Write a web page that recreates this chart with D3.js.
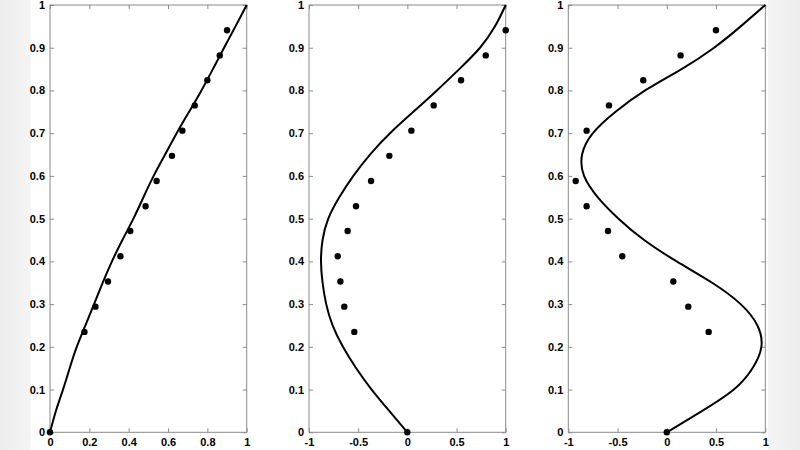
<!DOCTYPE html>
<html><head><meta charset="utf-8">
<script src="https://cdn.jsdelivr.net/npm/d3@7"></script>
<style>body{margin:0;background:#fff}svg{display:block}</style>
</head><body>
<svg id="c" width="800" height="450"></svg>
<script>
const yTicks = [0,0.1,0.2,0.3,0.4,0.5,0.6,0.7,0.8,0.9,1];
const xTicks1 = [0,0.2,0.4,0.6,0.8,1];
const xTicks2 = [-1,-0.5,0,0.5,1];
const dotY = [0,0.235,0.294,0.353,0.412,0.471,0.529,0.588,0.647,0.706,0.765,0.824,0.882,0.941];
const dotX1 = [0,0.175,0.231,0.295,0.358,0.408,0.486,0.542,0.620,0.673,0.736,0.800,0.863,0.900];
const dotX2 = [0,-0.539,-0.641,-0.681,-0.708,-0.607,-0.522,-0.369,-0.183,0.041,0.268,0.546,0.797,1.0];
const dotX3 = [0,0.425,0.218,0.066,-0.452,-0.597,-0.814,-0.925,-0.814,-0.587,-0.239,0.140,0.499];
const dotY3 = [0,0.235,0.294,0.353,0.412,0.471,0.529,0.588,0.706,0.765,0.824,0.882,0.941];
const curveY = [0,0.05,0.1,0.15,0.2,0.25,0.3,0.35,0.4,0.45,0.5,0.55,0.6,0.65,0.7,0.75,0.8,0.85,0.9,0.95,1];
const curveX1 = [0,0.03,0.066,0.1,0.136,0.18,0.224,0.268,0.315,0.368,0.424,0.475,0.527,0.585,0.644,0.707,0.77,0.828,0.885,0.943,1];
const curveX2 = [0,-0.184,-0.363,-0.52,-0.655,-0.76,-0.825,-0.862,-0.878,-0.862,-0.804,-0.692,-0.549,-0.38,-0.176,0.061,0.3,0.528,0.739,0.891,1];
const curveX3 = [0,0.36,0.68,0.87,0.96,0.92,0.75,0.46,0.1,-0.23,-0.49,-0.7,-0.84,-0.86,-0.75,-0.52,-0.22,0.15,0.48,0.75,1];

const svg = d3.select("#c");
const defs = svg.append("defs");
const gl = defs.append("linearGradient").attr("id","gl");
gl.append("stop").attr("offset","0").attr("stop-color","#ececec");
gl.append("stop").attr("offset","1").attr("stop-color","#f5f5f5");
const gr = defs.append("linearGradient").attr("id","gr");
gr.append("stop").attr("offset","0").attr("stop-color","#f5f5f5");
gr.append("stop").attr("offset","1").attr("stop-color","#ececec");
svg.append("rect").attr("x",0).attr("y",0).attr("width",31).attr("height",450).attr("fill","url(#gl)");
svg.append("rect").attr("x",768).attr("y",0).attr("width",32).attr("height",450).attr("fill","url(#gr)");

const plotTop = 5, plotBottom = 432.3;
const panels = [
  {x0:50, x1:246.7, dom:[0,1], xt:xTicks1, cx:curveX1, dx:dotX1, dy:dotY},
  {x0:309, x1:505.7, dom:[-1,1], xt:xTicks2, cx:curveX2, dx:dotX2, dy:dotY},
  {x0:568.3, x1:765.3, dom:[-1,1], xt:xTicks2, cx:curveX3, dx:dotX3, dy:dotY3}
];
const axisCol = "#8a8a8a";
const fmt = d => String(d);
panels.forEach(p => {
  const x = d3.scaleLinear().domain(p.dom).range([p.x0,p.x1]);
  const y = d3.scaleLinear().domain([0,1]).range([plotBottom,plotTop]);
  const g = svg.append("g");
  const styleAxis = (sel, labels) => {
    sel.select(".domain").remove();
    sel.selectAll(".tick line").attr("stroke",axisCol);
    sel.selectAll(".tick text").attr("fill","#000").style("font-family","Arial, 'Liberation Sans', sans-serif").style("font-size","11px").style("font-weight","bold");
    if(!labels) sel.selectAll(".tick text").remove();
  };
  g.append("g").attr("transform",`translate(0,${plotBottom})`)
    .call(d3.axisBottom(x).tickValues(p.xt).tickFormat(fmt).tickSize(-4).tickPadding(6)).call(s=>styleAxis(s,true));
  g.append("g").attr("transform",`translate(0,${plotTop})`)
    .call(d3.axisTop(x).tickValues(p.xt).tickSize(-4)).call(s=>styleAxis(s,false));
  g.append("g").attr("transform",`translate(${p.x0},0)`)
    .call(d3.axisLeft(y).tickValues(yTicks).tickFormat(fmt).tickSize(-4).tickPadding(5)).call(s=>styleAxis(s,true));
  g.append("g").attr("transform",`translate(${p.x1},0)`)
    .call(d3.axisRight(y).tickValues(yTicks).tickSize(-4)).call(s=>styleAxis(s,false));
  g.append("rect").attr("x",p.x0).attr("y",plotTop).attr("width",p.x1-p.x0).attr("height",plotBottom-plotTop)
    .attr("fill","none").attr("stroke",axisCol).attr("stroke-width",1);
  const pts = p.cx.map((v,i)=>[v,curveY[i]]);
  const line = d3.line().x(d=>x(d[0])).y(d=>y(d[1])).curve(d3.curveNatural);
  g.append("path").attr("d",line(pts)).attr("fill","none").attr("stroke","#000").attr("stroke-width",2);
  g.selectAll("circle").data(p.dx.map((v,i)=>[v,p.dy[i]])).join("circle")
    .attr("cx",d=>x(d[0])).attr("cy",d=>y(d[1])).attr("r",3.2).attr("fill","#000");
});
</script>
</body></html>
